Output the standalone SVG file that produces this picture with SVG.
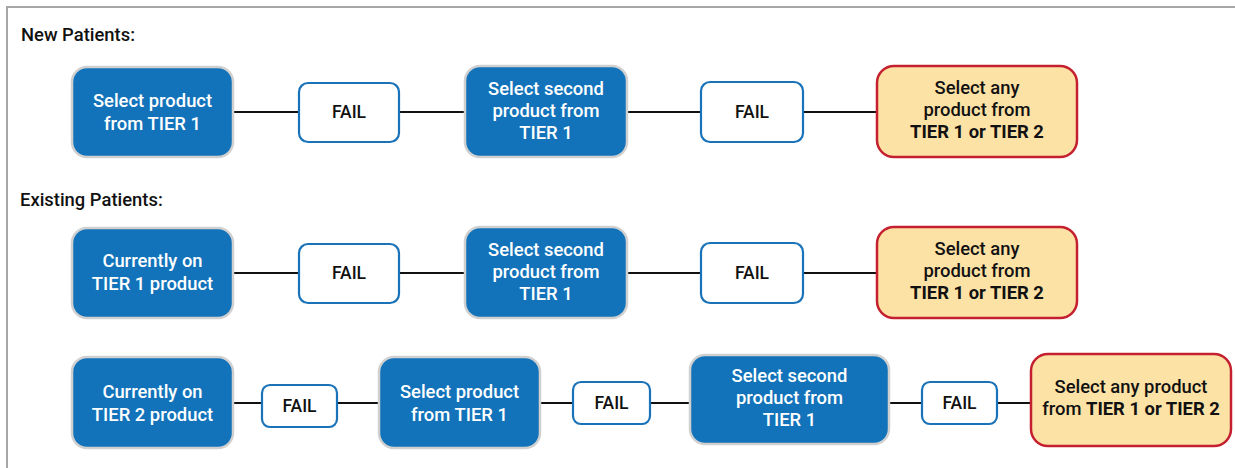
<svg xmlns="http://www.w3.org/2000/svg" width="1235" height="468" viewBox="0 0 1235 468">
<style>
.bg{fill:#ffffff}
.frame{fill:none;stroke:#a6a6a6;stroke-width:2}
.blue{fill:#1273ba;stroke:#d0d0d0;stroke-width:2.5}
.fail{fill:#ffffff;stroke:#1a73b8;stroke-width:2.2}
.goal{fill:#fde2a6;stroke:#c5202f;stroke-width:2.5}
.conn line{stroke:#111111;stroke-width:2}
text{font-family:Roboto,"Liberation Sans",sans-serif;font-size:18.4px;font-weight:500;text-anchor:middle}
.wt{fill:#ffffff}
.bk{fill:#111111}
.f{font-size:17.5px}
.hdr{text-anchor:start;fill:#111111}
.b{font-weight:700}
</style>
<rect class="bg" x="0" y="0" width="1235" height="468"/>
<path class="frame" d="M7,468 V7 H1235"/>
<text class="hdr" x="21" y="41">New Patients:</text>
<text class="hdr" x="20" y="206">Existing Patients:</text>
<g class="conn" id="connectors">
<line x1="233" y1="112" x2="299" y2="112"/>
<line x1="399" y1="112" x2="465" y2="112"/>
<line x1="627" y1="112" x2="701" y2="112"/>
<line x1="803" y1="112" x2="877" y2="112"/>
<line x1="233" y1="273" x2="299" y2="273"/>
<line x1="399" y1="273" x2="465" y2="273"/>
<line x1="627" y1="273" x2="701" y2="273"/>
<line x1="803" y1="273" x2="877" y2="273"/>
<line x1="233" y1="403" x2="262" y2="403"/>
<line x1="337" y1="403" x2="379" y2="403"/>
<line x1="540" y1="403" x2="573" y2="403"/>
<line x1="650" y1="403" x2="690" y2="403"/>
<line x1="889" y1="403" x2="922" y2="403"/>
<line x1="997" y1="403" x2="1031" y2="403"/>
</g>
<g id="n1a"><rect class="blue" x="72" y="67" width="161" height="90" rx="15"/>
<text class="wt" x="152.5" y="107">Select product</text><text class="wt" x="152.5" y="130">from TIER 1</text></g>
<g id="n1b"><rect class="fail" x="299" y="83" width="100" height="59" rx="9"/>
<text class="bk f" x="349" y="118">FAIL</text></g>
<g id="n1c"><rect class="blue" x="465" y="66" width="162" height="91" rx="15"/>
<text class="wt" x="546" y="95">Select second</text><text class="wt" x="546" y="117">product from</text><text class="wt" x="546" y="139">TIER 1</text></g>
<g id="n1d"><rect class="fail" x="701" y="82" width="102" height="60" rx="9"/>
<text class="bk f" x="752" y="118">FAIL</text></g>
<g id="n1e"><rect class="goal" x="877" y="66" width="200" height="91" rx="17"/>
<text class="bk" x="977" y="94">Select any</text><text class="bk" x="977" y="116">product from</text><text class="bk b" x="977" y="138">TIER 1 or TIER 2</text></g>

<g id="n2a"><rect class="blue" x="72" y="228" width="161" height="90" rx="15"/>
<text class="wt" x="152.5" y="267">Currently on</text><text class="wt" x="152.5" y="290">TIER 1 product</text></g>
<g id="n2b"><rect class="fail" x="299" y="244" width="100" height="59" rx="9"/>
<text class="bk f" x="349" y="279">FAIL</text></g>
<g id="n2c"><rect class="blue" x="465" y="227" width="162" height="91" rx="15"/>
<text class="wt" x="546" y="256">Select second</text><text class="wt" x="546" y="278">product from</text><text class="wt" x="546" y="300">TIER 1</text></g>
<g id="n2d"><rect class="fail" x="701" y="243" width="102" height="60" rx="9"/>
<text class="bk f" x="752" y="279">FAIL</text></g>
<g id="n2e"><rect class="goal" x="877" y="227" width="200" height="91" rx="17"/>
<text class="bk" x="977" y="255">Select any</text><text class="bk" x="977" y="277">product from</text><text class="bk b" x="977" y="299">TIER 1 or TIER 2</text></g>

<g id="n3a"><rect class="blue" x="72" y="357" width="161" height="91" rx="15"/>
<text class="wt" x="152.5" y="398">Currently on</text><text class="wt" x="152.5" y="421">TIER 2 product</text></g>
<g id="n3b"><rect class="fail" x="262" y="385" width="75" height="42" rx="8"/>
<text class="bk f" x="299.5" y="412">FAIL</text></g>
<g id="n3c"><rect class="blue" x="379" y="357" width="161" height="91" rx="15"/>
<text class="wt" x="459.5" y="398">Select product</text><text class="wt" x="459.5" y="421">from TIER 1</text></g>
<g id="n3d"><rect class="fail" x="573" y="382" width="77" height="42" rx="8"/>
<text class="bk f" x="611.5" y="409">FAIL</text></g>
<g id="n3e"><rect class="blue" x="690" y="355" width="199" height="89" rx="15"/>
<text class="wt" x="789.5" y="382">Select second</text><text class="wt" x="789.5" y="404">product from</text><text class="wt" x="789.5" y="426">TIER 1</text></g>
<g id="n3f"><rect class="fail" x="922" y="382" width="75" height="42" rx="8"/>
<text class="bk f" x="959.5" y="409">FAIL</text></g>
<g id="n3g"><rect class="goal" x="1031" y="354" width="200" height="92" rx="17"/>
<text class="bk" x="1131" y="393">Select any product</text><text class="bk" x="1131" y="415">from <tspan class="b">TIER 1 or TIER 2</tspan></text></g>
</svg>
